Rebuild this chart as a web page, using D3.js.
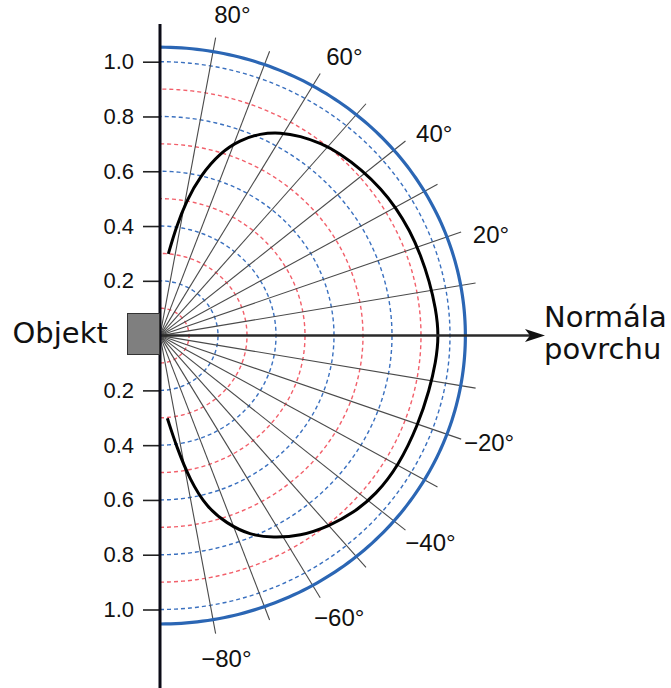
<!DOCTYPE html>
<html>
<head>
<meta charset="utf-8">
<script src="https://cdn.jsdelivr.net/npm/d3@7"></script>
<style>
  body { margin: 0; background: #fff; }
  svg { display: block; }
</style>
</head>
<body>
<svg id="chart" width="671" height="688"></svg>
<script>
// radial grid (tenths), spokes every 10 degrees
var ringRadii = [0.1, 0.2, 0.3, 0.4, 0.5, 0.6, 0.7, 0.8, 0.9, 1.0];
var spokeAngles = [80, 70, 60, 50, 40, 30, 20, 10, -10, -20, -30, -40, -50, -60, -70, -80];

// left scale
var radialTicks = [1.0, 0.8, 0.6, 0.4, 0.2, -0.2, -0.4, -0.6, -0.8, -1.0];
var radialTickLabels = ["1.0", "0.8", "0.6", "0.4", "0.2", "0.2", "0.4", "0.6", "0.8", "1.0"];

// angle labels
var angleTicks = [80, 60, 40, 20, -20, -40, -60, -80];
var angleLabels = ["80°", "60°", "40°", "20°", "\u221220°", "\u221240°", "\u221260°", "\u221280°"];

// lobe (degrees, relative radius)
var lobeAngles = [84.5, 82, 79.5, 76.6, 72.7, 68.9, 64.9, 60.8, 56.4, 51.7, 47, 41, 35, 30, 24, 18, 12, 6, 0,
                  -6, -12, -20, -30, -38, -44, -50, -56.6, -62.1, -66.9, -71.5, -75.6, -78.9, -82, -85.2];
var lobeRadii  = [0.30, 0.40, 0.50, 0.60, 0.70, 0.765, 0.815, 0.85, 0.875, 0.895, 0.91, 0.922, 0.932, 0.938, 0.943, 0.946, 0.95, 0.956, 0.962,
                  0.956, 0.95, 0.948, 0.95, 0.944, 0.93, 0.908, 0.877, 0.835, 0.792, 0.723, 0.646, 0.538, 0.41, 0.303];

var outerRadius = 1.053;
var spokeLength = 1.105;

var svg = d3.select("#chart");

// picture is a bit wider than tall, so x and y have their own scales
var x = d3.scaleLinear().domain([0, 1]).range([160, 450]);
var y = d3.scaleLinear().domain([-1, 1]).range([609.5, 61.7]);

function px(deg, r) {
    var a = deg * Math.PI / 180;
    return [x(r * Math.cos(a)), y(r * Math.sin(a))];
}

function halfRing(r) {
    return d3.range(-90, 90.5, 1).map(function (d) { return px(d, r); });
}

var line = d3.line();

// dashed rings
svg.append("g").selectAll("path")
    .data(ringRadii)
    .enter().append("path")
    .attr("d", function (d) { return line(halfRing(d)); })
    .attr("fill", "none")
    .attr("stroke", function (d, i) { return i % 2 == 0 ? "#f2606b" : "#3a70bf"; })
    .attr("stroke-width", 1.4)
    .attr("stroke-dasharray", "4,3");

// spokes
svg.append("g").selectAll("line")
    .data(spokeAngles)
    .enter().append("line")
    .attr("x1", x(0))
    .attr("y1", y(0))
    .attr("x2", function (d) { return px(d, spokeLength)[0]; })
    .attr("y2", function (d) { return px(d, spokeLength)[1]; })
    .attr("stroke", "#4a4a4a")
    .attr("stroke-width", 1.1);

// outer solid arc
svg.append("path")
    .attr("d", line(halfRing(outerRadius)))
    .attr("fill", "none")
    .attr("stroke", "#2b66b4")
    .attr("stroke-width", 3.2);

// the lobe
svg.append("path")
    .attr("d", d3.line().curve(d3.curveBasis)(
        lobeAngles.map(function (d, i) { return px(d, lobeRadii[i]); })))
    .attr("fill", "none")
    .attr("stroke", "#000")
    .attr("stroke-width", 3);

// surface normal arrow
svg.append("line")
    .attr("x1", x(0)).attr("y1", y(0))
    .attr("x2", 532).attr("y2", y(0))
    .attr("stroke", "#2a2a2a")
    .attr("stroke-width", 2.5);
svg.append("path")
    .attr("d", "M545," + y(0) + "L525," + (y(0) - 6.5) + "L530," + y(0) + "L525," + (y(0) + 6.5) + "Z")
    .attr("fill", "#111");

// left axis with ticks
var axis = svg.append("g")
    .attr("transform", "translate(" + x(0) + ",0)")
    .call(d3.axisLeft(y)
        .tickValues(radialTicks)
        .tickFormat(function (d, i) { return radialTickLabels[i]; })
        .tickSize(17)
        .tickPadding(9));
axis.select(".domain").remove();
axis.selectAll(".tick line").attr("stroke", "#222").attr("stroke-width", 1.6);
axis.selectAll(".tick text")
    .attr("font-family", "'Liberation Sans', Arial, sans-serif")
    .attr("font-size", 22)
    .attr("fill", "#111");

svg.append("line")
    .attr("x1", x(0)).attr("x2", x(0))
    .attr("y1", 24).attr("y2", 688)
    .attr("stroke", "#0b0b16")
    .attr("stroke-width", 3);

// object block
svg.append("rect")
    .attr("x", 127.5).attr("y", 313.5)
    .attr("width", 32).attr("height", 41)
    .attr("fill", "#7f7f7f")
    .attr("stroke", "#333")
    .attr("stroke-width", 1);

// angle labels
svg.append("g").selectAll("text")
    .data(angleTicks)
    .enter().append("text")
    .attr("x", function (d) { return px(d > 0 ? d - 2 : d + 1, 1.2)[0]; })
    .attr("y", function (d) { return px(d > 0 ? d - 2 : d + 1, 1.2)[1] + 8.6; })
    .attr("text-anchor", "middle")
    .attr("font-family", "'Liberation Sans', Arial, sans-serif")
    .attr("font-size", 24)
    .attr("fill", "#111")
    .text(function (d, i) { return angleLabels[i]; });

var big = "'DejaVu Sans', Verdana, sans-serif";
svg.append("text")
    .attr("x", 12.5).attr("y", 343)
    .attr("font-family", big).attr("font-size", 29).attr("fill", "#111")
    .text("Objekt");
svg.append("text")
    .attr("x", 544).attr("y", 327)
    .attr("font-family", big).attr("font-size", 29).attr("fill", "#111")
    .text("Normála");
svg.append("text")
    .attr("x", 544).attr("y", 359)
    .attr("font-family", big).attr("font-size", 29).attr("fill", "#111")
    .text("povrchu");
</script>
</body>
</html>
